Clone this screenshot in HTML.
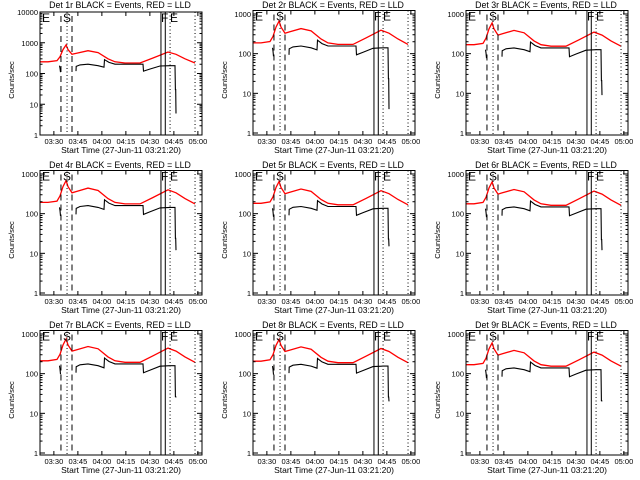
<!DOCTYPE html>
<html><head><meta charset="utf-8"><style>
html,body{margin:0;padding:0;background:#fff;}
svg{display:block;font-family:"Liberation Sans",sans-serif;}
</style></head><body>
<svg id="c" width="640" height="480" viewBox="0 0 640 480" xmlns="http://www.w3.org/2000/svg">
<rect x="0" y="0" width="640" height="480" fill="#fff"/>
</svg>
<script>
const detectorNames = ["1r","2r","3r","4r","5r","6r","7r","8r","9r"];
const panelScale = [1.0,0.78,0.7,0.8,0.76,0.74,0.88,0.86,0.7];
const panelDrop = [5,4,9,12,15,12,25,20,20];
const panelYmax = [10000,1300,1300,1300,1300,1300,1300,1300,1300];
const redTimes = [0,5,10.6,12.5,14.4,16.3,17.5,20,22.5,30,36.3,42.5,46.9,53.1,62.5,70.6,80,85,90.6,96.9];
const redValues = [240,240,260,350,600,850,600,420,450,550,480,300,240,220,220,320,500,420,300,220];
const blackSeg1Times = [12.2,12.5,12.8];
const blackSeg1Values = [180,150,110];
const blackTimes = [22.5,22.6,25,30,36.3,40,40.3,43.1,46.9,50,64.4,64.7,68.8,75,81.3,84.4,84.6,84.8,85];
const blackValues = [120,170,190,200,180,160,280,230,200,200,200,120,140,175,180,180,30,30,null];
const dashedTimes = [13.1,20];
const dottedTimes = [16.9,81.3,96.9];
const solidTimes = [75.6,78.3];
const tickTimes = [8.67,23.67,38.67,53.67,68.67,83.67,98.67];
const tickLabels = ["03:30","03:45","04:00","04:15","04:30","04:45","05:00"];
const svg = document.getElementById('c');
const NS = "http://www.w3.org/2000/svg";
function mk(tag, attrs, parent){const e=document.createElementNS(NS,tag);for(const k in attrs)e.setAttribute(k,attrs[k]);parent.appendChild(e);return e;}
for(let p=0;p<9;p++){
  const ox=(p%3)*213, oy=Math.floor(p/3)*160;
  const L=ox+40,R=ox+202,T=oy+(p===0?12:10.5),B=oy+135;
  const ymax=panelYmax[p];
  const bot = oy+(p===0?135:133);
  const top = p===0?T:oy+14;
  const dec = p===0?(bot-top)/4:(bot-top)/3;
  const g=mk('g',{},svg);
  
  
  const X=t=>L+t*1.6;
  const Y=v=>bot-Math.log10(v)*dec;
  const ti=mk('text',{x:ox+120,y:oy+8,'font-size':'8.8','text-anchor':'middle'},g);
  ti.textContent='Det '+detectorNames[p]+' BLACK = Events, RED = LLD';
  
  
  let d='';redTimes.forEach((t,i)=>{d+=(i?'L':'M')+X(t).toFixed(1)+' '+Y(redValues[i]*panelScale[p]).toFixed(1);});
  const rp=mk('path',{d:d,fill:'none',stroke:'#ff0000','stroke-width':'1.3'},g);
  
  
  d='';blackSeg1Times.forEach((t,i)=>{d+=(i?'L':'M')+X(t).toFixed(1)+' '+Y(blackSeg1Values[i]*panelScale[p]).toFixed(1);});
  blackTimes.forEach((t,i)=>{const v=blackValues[i]===null?panelDrop[p]:blackValues[i]*panelScale[p];d+=(i?'L':'M')+X(t).toFixed(1)+' '+Y(v).toFixed(1);});
  const bp=mk('path',{d:d,fill:'none',stroke:'#000','stroke-width':'1.1'},g);
  
  
  dashedTimes.forEach(t=>{const l=mk('line',{x1:X(t),x2:X(t),y1:T+4,y2:B-3,stroke:'#000','stroke-dasharray':'6,4'},g);});
  dottedTimes.forEach(t=>{const l=mk('line',{x1:X(t),x2:X(t),y1:T,y2:B,stroke:'#000','stroke-dasharray':'1,2.5'},g);});
  solidTimes.forEach(t=>{const l=mk('line',{x1:X(t),x2:X(t),y1:T,y2:B,stroke:'#000'},g);});
  [['E',42],['S',63],['F',161],['E',170]].forEach(a=>{const tx=mk('text',{x:ox+a[1],y:T+10,'font-size':'12'},g);tx.textContent=a[0];});
  const fr=mk('rect',{x:L,y:T,width:R-L,height:B-T,fill:'none',stroke:'#000'},g);
  
  
  tickTimes.forEach((t,i)=>{const x=X(t);if(x>R+1)return;
    mk('line',{x1:x,x2:x,y1:B,y2:B-4,stroke:'#000'},g);mk('line',{x1:x,x2:x,y1:T,y2:T+4,stroke:'#000'},g);
    const tl=mk('text',{x:x,y:B+9,'font-size':'7.5','text-anchor':'middle'},g);tl.textContent=tickLabels[i];
    
    });
  const decs=p===0?[1,10,100,1000,10000]:[1,10,100,1000];
  decs.forEach(v=>{const y=Y(v);mk('line',{x1:L,x2:L+5,y1:y,y2:y,stroke:'#000'},g);mk('line',{x1:R,x2:R-5,y1:y,y2:y,stroke:'#000'},g);
    const yl=mk('text',{x:L-2,y:y+3,'font-size':'7.5','text-anchor':'end'},g);yl.textContent=String(v);
    
    
    for(let m=2;m<10;m++){const vv=v*m;if(vv>ymax)break;const yy=Y(vv);if(yy<T)break;mk('line',{x1:L,x2:L+2.5,y1:yy,y2:yy,stroke:'#000'},g);mk('line',{x1:R,x2:R-2.5,y1:yy,y2:yy,stroke:'#000'},g);}
  });
  const xt=mk('text',{x:ox+121,y:oy+153,'font-size':'8.5','text-anchor':'middle'},g);xt.textContent='Start Time (27-Jun-11 03:21:20)';
  
  
  const yt=mk('text',{x:0,y:0,'font-size':'7.5','text-anchor':'middle',transform:'translate('+(ox+14)+','+(oy+80)+') rotate(-90)'},g);yt.textContent='Counts/sec';
  
  
}
</script>
</body></html>
